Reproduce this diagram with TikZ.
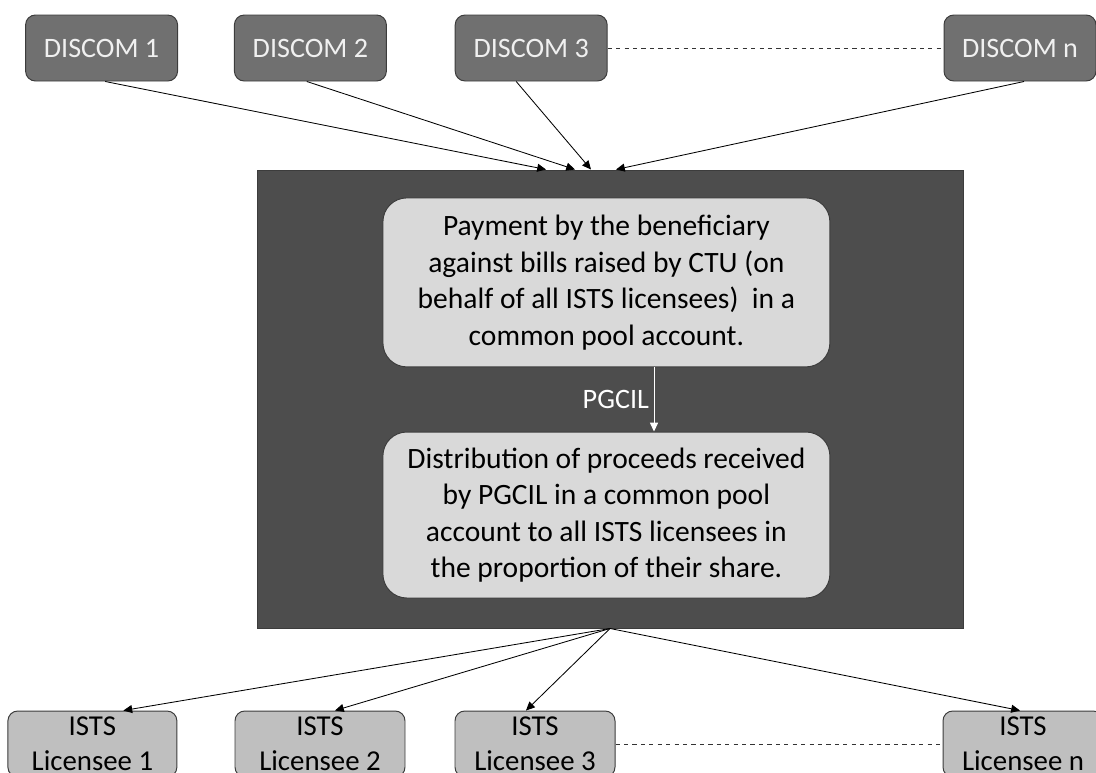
\documentclass[tikz,border=0pt]{standalone}
\usepackage{fontspec}
\setmainfont{Carlito}
\usetikzlibrary{arrows.meta,positioning,calc}
\definecolor{slate}{RGB}{112,112,112}
\definecolor{charcoal}{RGB}{77,77,77}
\definecolor{mist}{RGB}{217,217,217}
\definecolor{pebble}{RGB}{191,191,191}
\definecolor{rim}{RGB}{60,60,60}
\tikzset{
  >={Triangle[length=2.2mm,width=2mm]},
  discom/.style={fill=slate,draw=rim,line width=0.7pt,rounded corners=7pt,
    minimum width=3.8cm,minimum height=1.65cm,text=white!94!black,
    font=\fontsize{20}{24}\selectfont},
  licensee/.style={fill=pebble,draw=rim,line width=0.7pt,rounded corners=7pt,
    minimum width=#1,minimum height=1.65cm,align=center,inner sep=0pt,
    font=\fontsize{20.5}{25}\selectfont},
  licensee/.default=4cm,
  stage/.style={fill=mist,draw=rim,line width=0.7pt,rounded corners=17pt,
    minimum width=11.175cm,minimum height=#1,align=center,
    font=\fontsize{21}{26}\selectfont},
  stage/.default=4.2cm,
  feed/.style={->,line width=0.6pt,draw=black},
  gap/.style={dashed,line width=0.6pt,draw=black!80},
}
\begin{document}
\begin{tikzpicture}
  \useasboundingbox (0,0) rectangle (27.4,-19.3);
  % beneficiaries
  \foreach \t/\x/\n in {DISCOM 1/2.54/d1,DISCOM 2/7.76/d2,DISCOM 3/13.28/d3,DISCOM n/25.5/dn}{
    \node[discom] (\n) at (\x,-1.2) {\t};
  }
  \draw[gap] (d3) -- (dn);
  % pool account
  \node[fill=charcoal,draw=rim,line width=0.7pt,minimum width=17.65cm,minimum height=11.45cm] (pool) at (15.25,-9.975) {};
  \node[stage=4.225cm] (pay) at (15.16,-7.06) {Payment by the beneficiary\\against bills raised by CTU (on\\behalf of all ISTS licensees)\ \ in a\\common pool account.};
  \node[stage=4.15cm] (dist) at (15.16,-12.875) {Distribution of proceeds received\\by PGCIL in a common pool\\account to all ISTS licensees in\\the proportion of their share.};
  \draw[->,white,line width=0.6pt] ([xshift=1.19cm]pay.south) -- ([xshift=1.19cm]dist.north)
    node[midway,left,text=white,font=\fontsize{20}{24}\selectfont] {PGCIL};
  % licensees
  \foreach \x/\w/\d [count=\i] in {2.31/4.225cm/1,8.0/4.25cm/2,13.375/4cm/3,25.575/4cm/n}{
    \node[licensee=\w] (l\d) at (\x,-18.6) {ISTS\\Licensee \d};
  }
  \draw[gap] (l3) -- (ln);
  \foreach \n/\a/\b in {d1/0.09/-1.6,d2/-0.09/-0.875,d3/-0.375/-0.475,dn/0.1/0.15}
    \draw[feed] ([xshift=\a cm]\n.south) -- ([xshift=\b cm]pool.north);
  \foreach \n/\b in {l1/0.775,l2/0.375,l3/-0.225,ln/-0.075}
    \draw[feed] (pool.south) -- ([xshift=\b cm]\n.north);
\end{tikzpicture}
\end{document}
